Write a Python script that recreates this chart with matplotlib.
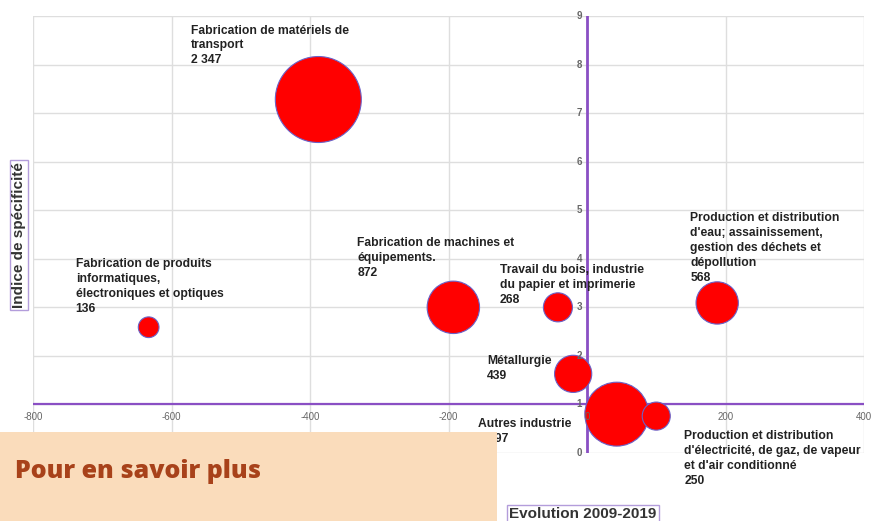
import matplotlib
matplotlib.use("Agg")
import matplotlib.pyplot as plt
from matplotlib.patches import Rectangle

# secteurs : evolution 2009-2019, indice de specificite, effectifs
labels = [
    "Fabrication de matériels de\ntransport",
    "Fabrication de produits\ninformatiques,\nélectroniques et optiques",
    "Fabrication de machines et\néquipements.",
    "Travail du bois, industrie\ndu papier et imprimerie",
    "Production et distribution\nd'eau; assainissement,\ngestion des déchets et\ndépollution",
    "Métallurgie",
    "Autres industrie",
    "Production et distribution\nd'électricité, de gaz, de vapeur\net d'air conditionné",
]
values = [2347, 136, 872, 268, 568, 439, 1297, 250]
value_txt = ["2 347", "136", "872", "268", "568", "439", "1 297", "250"]
evolution = [-388, -633, -193, -42, 188, -20, 43, 100]
indice = [7.28, 2.59, 3.0, 3.0, 3.09, 1.63, 0.8, 0.76]

x_ticks = [-800, -600, -400, -200, 0, 200, 400]
y_ticks = [0, 1, 2, 3, 4, 5, 6, 7, 8, 9]

# label offsets (pixels from bubble centre to text top-left)
offsets = [(-127, 75), (-73, 69), (-96, 70), (-58, 43), (-27, 91),
           (-86, 19), (-139, -4), (28, -14)]

purple = "#8a4fc4"
fig = plt.figure(figsize=(8.77, 5.21), dpi=100)
ax = fig.add_axes([33 / 877, (521 - 453) / 521, 831 / 877, 437 / 521])
ax.set_xlim(-800, 400)
ax.set_ylim(0, 9)
ax.set_xticks(x_ticks)
ax.set_yticks(y_ticks)
ax.tick_params(length=0, labelbottom=False, labelleft=False)
ax.grid(True, color="#dedede", lw=1)
for s in ax.spines.values():
    s.set_visible(False)
ax.set_axisbelow(True)

ax.axhline(1, color=purple, lw=1.6, zorder=2)
ax.axvline(0, color=purple, lw=2, zorder=2)

sizes = [v * 1.633 for v in values]
ax.scatter(evolution, indice, s=sizes, c="#ff0000", edgecolors="#6a62c8",
           linewidths=0.8, zorder=3, clip_on=False)

tick_font = dict(fontsize=7, color="#666666", family="Liberation Sans")
for v in x_ticks:
    ax.annotate(str(v), (v, 1), xytext=(0, -8), textcoords="offset pixels",
                ha="center", va="top", **tick_font)
for v in y_ticks:
    ax.annotate(str(v), (0, v), xytext=(-5, 0), textcoords="offset pixels",
                ha="right", va="center", fontweight="bold", **tick_font)

for i in range(len(labels)):
    ax.annotate(labels[i] + "\n" + value_txt[i], (evolution[i], indice[i]),
                xytext=offsets[i], textcoords="offset pixels", ha="left", va="top",
                fontsize=8.7, fontweight="bold", color="#222222",
                family="Liberation Sans", linespacing=1.33, zorder=4)

fig.text(19 / 877, 1 - 235 / 521, "Indice de spécificité", rotation=90,
         ha="center", va="center", fontsize=11, fontweight="bold", color="#333333",
         family="Liberation Sans",
         bbox=dict(boxstyle="square,pad=0.15", fc="white", ec="#b39ddb", lw=1))
fig.text(583 / 877, 1 - 514 / 521, "Evolution 2009-2019",
         ha="center", va="center", fontsize=11, fontweight="bold", color="#333333",
         family="Liberation Sans",
         bbox=dict(boxstyle="square,pad=0.15", fc="white", ec="#b39ddb", lw=1))

fig.patches.append(Rectangle((0, 0), 497 / 877, 89 / 521, transform=fig.transFigure,
                             fc="#fadcbb", ec="none", zorder=5))
fig.text(15 / 877, 1 - 472 / 521, "Pour en savoir plus", ha="left", va="center",
         fontsize=18, fontweight="heavy", color="#a8421a", family="Open Sans",
         zorder=6)

fig.savefig("out.png", dpi=100)
